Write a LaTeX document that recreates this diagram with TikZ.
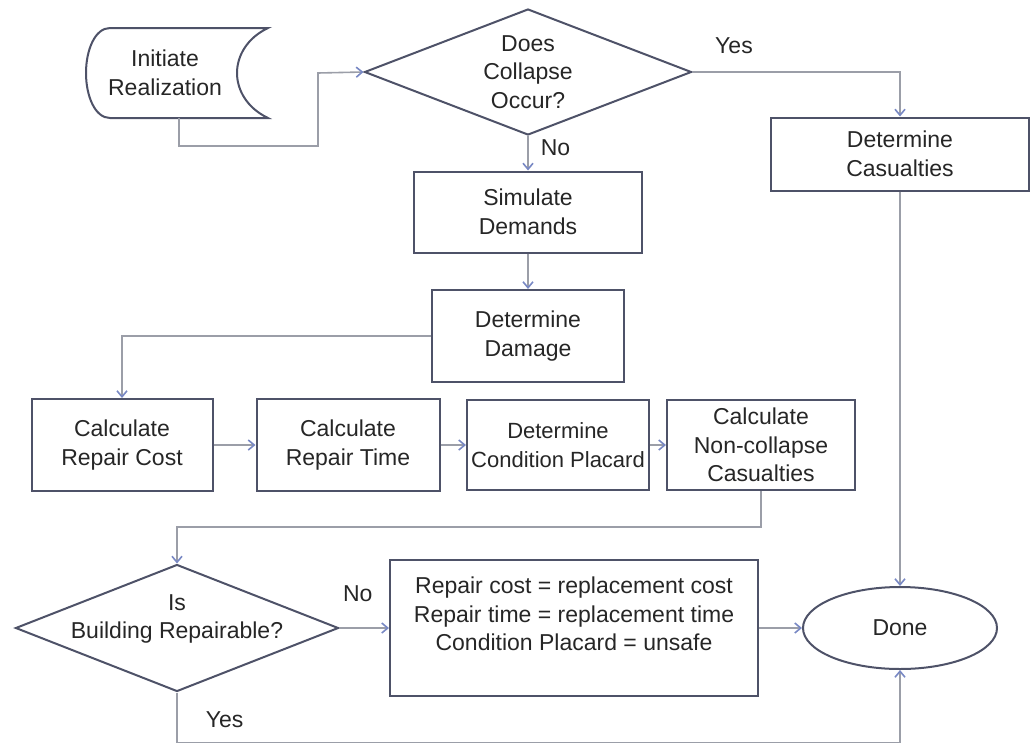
\documentclass[tikz,border=0pt]{standalone}
\usepackage{fontspec}
\setmainfont{Liberation Sans}
\usetikzlibrary{shapes.geometric,arrows.meta}

\definecolor{edgegray}{RGB}{78,82,104}
\definecolor{linegray}{RGB}{155,158,168}
\definecolor{tipblue}{RGB}{120,136,196}
\definecolor{inkgray}{RGB}{38,38,38}

\tikzset{
  box/.style={draw=edgegray, line width=2pt, rectangle, align=center, inner sep=2pt},
  decision/.style={draw=edgegray, line width=2pt, diamond, inner sep=0pt},
  terminal/.style={draw=edgegray, line width=2pt, ellipse, inner sep=0pt},
  flow/.style={draw=linegray, line width=1.6pt, -{Straight Barb[length=6pt,width=10pt,color=tipblue]}},
  lbl/.style={inner sep=0pt, text=inkgray},
}

\begin{document}
\begin{tikzpicture}[x=1pt, y=-1pt, font=\fontsize{23}{28.5}\selectfont, text=inkgray]
      \useasboundingbox (0,0) rectangle (1031,745);
      % start shape
      \draw[edgegray, line width=2pt] (110,28) -- (268,28) .. controls (247,38) and (237,56) .. (237,73)
        .. controls (237,90) and (247,108) .. (268,118) -- (110,118)
        .. controls (95,118) and (86,96) .. (86,73) .. controls (86,50) and (95,28) .. cycle;
      \node[lbl, align=center] (init) at (165,73) {Initiate\\Realization};
      \coordinate (initout) at (179,118);

      \node[decision, minimum width=327pt, minimum height=126pt,
        label={[align=center]center:Does\\Collapse\\Occur?}] (collapse) at (528,72) {};
      \node[box, minimum width=228pt, minimum height=81pt] (simulate) at (528,212) {Simulate\\Demands};
      \node[box, minimum width=192pt, minimum height=92pt] (damage) at (528,336) {Determine\\Damage};
      \node[box, minimum width=258pt, minimum height=73pt] (casualties) at (900,154) {Determine\\Casualties};

      \node[box, minimum width=181pt, minimum height=92pt] (repcost) at (122,445) {Calculate\\Repair Cost};
      \node[box, minimum width=183pt, minimum height=92pt] (reptime) at (348,445) {Calculate\\Repair Time};
      \node[box, minimum width=182pt, minimum height=90pt, font=\fontsize{22}{28.5}\selectfont] (placard) at (558,445) {Determine\\Condition Placard};
      \node[box, minimum width=188pt, minimum height=90pt] (noncollapse) at (761,445) {Calculate\\Non-collapse\\Casualties};

      \node[decision, minimum width=323pt, minimum height=127pt,
        label={[align=center, yshift=9pt]center:Is\\Building Repairable?}] (repairable) at (177,628) {};
      \node[box, minimum width=368pt, minimum height=136pt] (replace) at (574,628)
        {Repair cost = replacement cost\\Repair time = replacement time\\Condition Placard = unsafe\\~};
      \node[terminal, minimum width=194pt, minimum height=82pt] (done) at (900,628) {Done};

      \draw[flow] (initout) -- ++(0,28) -| (318,73) -- (collapse.west);
      \draw[flow] (collapse.east) -| node[lbl, pos=0.1, above=17pt] {Yes} (casualties.north);
      \draw[flow] (collapse.south) -- node[lbl, pos=0.35, right=12pt] {No} (simulate.north);
      \draw[flow] (simulate.south) -- (damage.north);
      \draw[flow] (damage.west) -| (repcost.north);
      \draw[flow] (repcost.east) -- (reptime.west);
      \draw[flow] (reptime.east) -- (placard.west);
      \draw[flow] (placard.east) -- (noncollapse.west);
      \draw[flow] (noncollapse.south) -- ++(0,36) -| (repairable.north);
      \draw[flow] (repairable.east) -- node[lbl, pos=0.37, above=25pt] {No} (replace.west);
      \draw[flow] (replace.east) -- (done.west);
      \draw[flow] (casualties.south) -- (done.north);
      \draw[flow] (repairable.south) -- node[lbl, pos=0.55, right=28pt] {Yes} ++(0,50) -| (done.south);
\end{tikzpicture}
\end{document}
